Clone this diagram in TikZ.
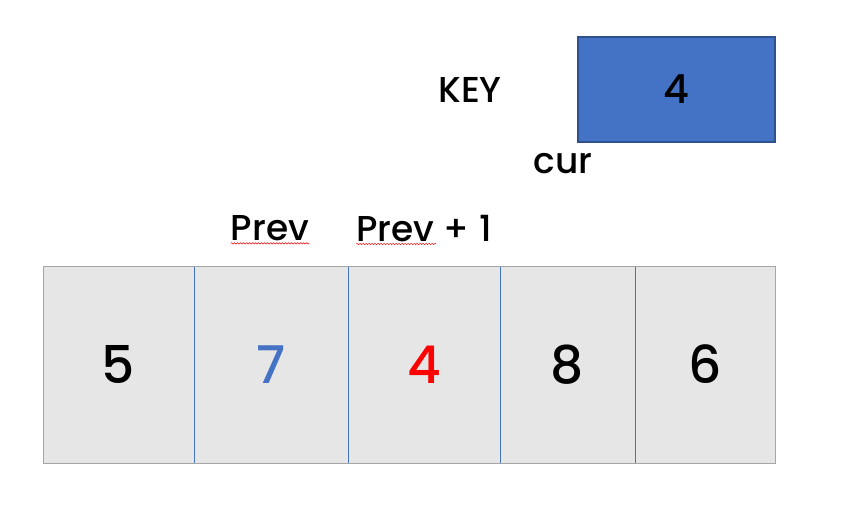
\documentclass[tikz,border=0pt]{standalone}
\usepackage{fontspec}
\setmainfont{Poppins}[UprightFont={* Medium}]
\usetikzlibrary{positioning,decorations.pathmorphing}
\definecolor{keyblue}{HTML}{4472C4}
\definecolor{keyedge}{HTML}{2F528F}
\definecolor{cellgray}{HTML}{E7E6E6}
\definecolor{rimgray}{HTML}{A5A5A5}
\tikzset{
	cell/.style={fill=cellgray, minimum height=197pt, inner sep=0pt, outer sep=0pt, font=\fontsize{52}{52}\selectfont},
	lbl/.style={inner sep=0pt, font=\fontsize{36}{36}\selectfont},
	spell/.style={red, line width=0.5pt, decorate, decoration={snake, amplitude=0.7pt, segment length=3pt}}
}
\begin{document}
\begin{tikzpicture}[x=1pt,y=-1pt]
			\useasboundingbox (0,0) rectangle (846,516);
			\node(KeyBox)	[fill=keyblue, draw=keyedge, line width=1.3pt, minimum width=197pt, minimum height=105pt, font=\fontsize{40}{40}\selectfont] at (676.5,89.5) {4};
			\node(Key)		[lbl] at (470,90)			{KEY};
			\node(Cur)		[lbl] at (563,164)			{cur};
			\node(Prev)		[lbl] at (270,228.5)		{Prev};
			\node(PrevOne)	[lbl] at (424,228.5)		{Prev + 1};
			\node(c1)		[cell, minimum width=151pt] at (118.5,364.5)	{5};
			\node(c2)		[cell, minimum width=154pt, right=0pt of c1, text=keyblue]	{7};
			\node(c3)		[cell, minimum width=152pt, right=0pt of c2, text=red]	{4};
			\node(c4)		[cell, minimum width=135pt, right=0pt of c3]	{8};
			\node(c5)		[cell, minimum width=140pt, right=0pt of c4]	{6};
			\draw[keyblue, line width=0.8pt]	(c1.north east) -- (c1.south east);
			\draw[keyblue, line width=0.8pt]	(c2.north east) -- (c2.south east);
			\draw[keyblue, line width=0.8pt]	(c3.north east) -- (c3.south east);
			\draw[keyblue, line width=0.8pt]	(c4.north east) -- (c4.south east);
			\draw[rimgray, line width=1pt]	(c1.north west) rectangle (c5.south east);
			\draw[spell]	([yshift=-2pt]Prev.south west) -- ([yshift=-2pt]Prev.south east);
			\draw[spell]	([yshift=-2pt]PrevOne.south west) -- ++(80,0);
		\end{tikzpicture}
\end{document}
